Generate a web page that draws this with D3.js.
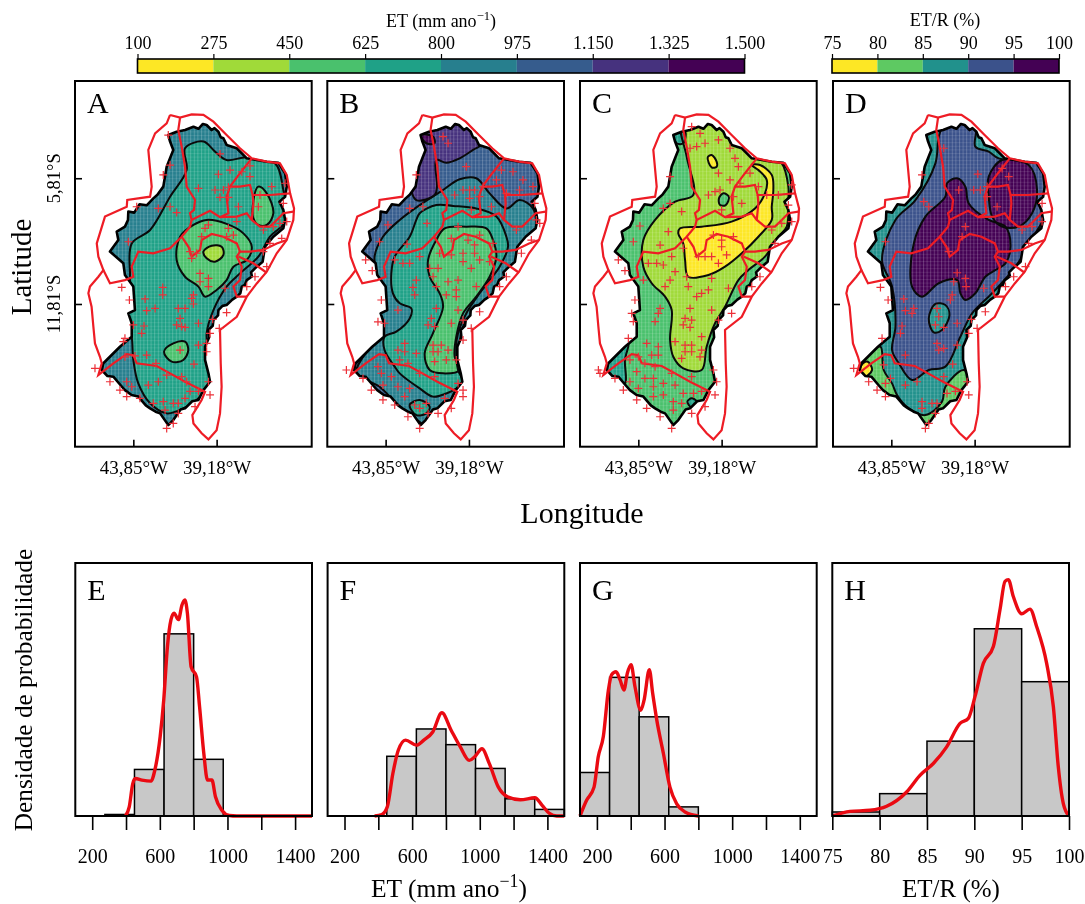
<!DOCTYPE html>
<html>
<head>
<meta charset="utf-8">
<title>ET maps</title>
<script src="https://cdn.jsdelivr.net/npm/d3@7"></script>
<style>
  html, body { margin: 0; background: #fff; }
  svg { filter: blur(0.45px); }
  text { font-family: "Liberation Serif", serif; fill: #000; }
</style>
</head>
<body>
<svg id="chart" width="1085" height="904"></svg>
<script>
// colour classes
const etBreaks = [100, 275, 450, 625, 800, 975, 1150, 1325, 1500];
const etColors = ["#fde725", "#a0da39", "#4ac16d", "#1fa187", "#277f8e", "#365c8d", "#46327e", "#440154"];
const ratioBreaks = [75, 80, 85, 90, 95, 100];
const ratioColors = ["#fde725", "#5ec962", "#21918c", "#3b528b", "#440154"];

// map geometry, all pairs are [degrees W, degrees S]
const studyArea = [[41.89,3.75],[41.42,3.59],[40.95,3.51],[40.48,3.35],[40.20,3.45],[39.95,3.22],[39.74,3.27],[39.46,3.51],[39.30,3.42],[39.08,3.59],[38.95,3.85],[38.80,3.90],[38.62,4.22],[38.05,4.38],[37.49,4.86],[36.37,5.02],[35.72,5.07],[35.34,5.57],[35.25,6.21],[35.34,6.69],[35.66,6.93],[35.44,7.32],[35.34,7.80],[35.44,8.20],[36.00,8.60],[36.47,9.08],[36.60,9.79],[37.03,10.11],[37.25,10.30],[37.20,10.50],[37.49,10.67],[37.60,10.90],[37.77,10.98],[37.85,11.30],[38.05,11.46],[38.30,11.60],[38.62,11.86],[38.85,11.90],[39.08,12.10],[39.10,12.35],[39.36,12.58],[39.40,12.85],[39.64,13.05],[39.60,13.40],[39.83,13.85],[39.83,14.48],[39.64,15.12],[39.55,15.52],[39.92,15.92],[40.20,16.39],[40.55,16.45],[40.95,16.79],[41.20,16.85],[41.61,17.35],[41.89,17.59],[42.35,17.03],[42.60,16.95],[42.91,16.79],[43.15,16.65],[43.57,16.23],[43.95,16.15],[44.32,15.92],[44.55,15.70],[44.97,15.28],[45.30,15.25],[45.62,14.96],[45.53,14.64],[44.60,13.85],[43.94,13.37],[43.94,12.73],[44.13,12.26],[43.76,12.10],[43.85,10.98],[44.32,10.43],[44.41,9.87],[45.16,9.31],[44.69,8.76],[44.78,8.36],[44.32,8.12],[44.15,7.80],[44.13,7.40],[43.80,7.45],[43.50,7.05],[43.10,7.10],[42.73,6.77],[42.50,6.60],[42.17,6.21],[41.98,5.26],[41.61,4.46],[41.79,4.06]];
const redOuter = [[41.79,2.79],[41.23,2.92],[40.58,2.76],[39.92,2.79],[39.36,3.11],[38.62,3.75],[37.87,4.38],[37.21,4.86],[36.37,5.02],[35.63,5.10],[35.25,5.65],[35.06,6.53],[34.84,7.25],[34.88,7.80],[35.25,8.76],[35.81,9.39],[36.37,10.27],[36.93,10.83],[37.49,11.46],[38.05,12.42],[38.99,13.05],[38.95,14.64],[38.90,15.76],[38.99,17.03],[39.18,17.83],[39.64,18.27],[40.02,17.98],[40.48,17.51],[40.54,17.11],[40.02,16.39],[39.83,16.00],[40.95,15.52],[41.79,15.12],[42.54,14.77],[43.66,14.64],[43.85,14.25],[44.22,14.20],[44.97,14.64],[45.81,15.20],[45.62,14.64],[45.72,14.33],[46.00,13.69],[46.09,12.89],[46.19,11.94],[46.37,11.30],[46.28,10.98],[45.81,10.51],[45.53,10.19],[45.81,9.55],[45.90,8.92],[45.44,7.64],[44.22,7.17],[44.19,6.85],[42.91,6.69],[42.82,6.21],[43.01,4.46],[42.63,3.67],[41.98,3.19],[41.79,2.79]];
const redBorders = [
  [[41.23,2.92],[41.33,3.51],[41.14,4.30],[40.95,5.26],[40.86,6.21],[40.39,6.85],[40.45,7.32],[40.67,7.48],[40.58,7.80],[39.55,7.36],[38.99,7.67],[38.05,7.64],[37.49,7.48],[37.21,7.80],[36.75,8.12],[36.19,8.12],[35.81,7.80],[35.44,7.48],[34.88,7.40]],
  [[37.21,4.86],[37.87,5.57],[38.43,6.21],[38.62,6.69],[38.52,7.48],[38.99,7.67]],
  [[38.43,6.21],[37.87,6.21],[37.31,6.13],[37.16,6.61],[36.19,6.61],[35.06,6.53]],
  [[37.16,6.61],[37.12,7.01],[37.21,7.80]],
  [[45.53,10.19],[45.16,10.82],[44.32,10.67],[43.85,10.51],[43.94,10.03],[43.57,9.31],[42.73,9.39],[41.79,9.15],[41.14,8.60],[40.67,8.12],[40.58,7.80]],
  [[41.14,8.60],[40.76,9.08],[40.58,9.55],[40.11,9.23],[40.02,8.76],[39.46,8.47],[38.80,8.60],[38.05,8.92],[37.87,9.31],[37.31,9.31],[36.56,9.23],[35.81,8.92],[35.25,8.76]],
  [[37.87,9.31],[38.05,9.55],[37.77,10.03],[37.87,10.67],[38.24,10.98],[38.05,11.46],[37.49,11.46]],
  [[37.96,9.55],[37.12,9.87],[36.37,10.32]]
];

// contour bands: [colour class, ring], painted in this order
const bandsA = [
  [3, [[40.95,4.38],[39.92,4.06],[39.27,4.54],[38.62,4.94],[37.49,4.81],[35.91,5.10],[35.44,6.37],[35.25,7.80],[36.19,8.60],[36.84,9.55],[37.87,10.35],[38.62,10.98],[39.36,12.10],[39.74,13.21],[39.55,15.44],[40.11,16.23],[41.05,16.79],[41.98,17.03],[42.91,16.55],[43.57,15.60],[43.85,14.48],[43.94,13.37],[44.22,12.26],[44.04,10.67],[43.94,8.92],[42.91,8.28],[41.79,6.69],[40.86,5.42]]],
  [2, [[41.23,8.60],[40.48,8.04],[39.74,7.80],[38.62,7.99],[37.68,8.44],[37.21,9.08],[37.49,9.71],[38.24,10.03],[38.62,10.67],[39.18,11.14],[39.83,11.46],[40.20,10.98],[40.95,10.51],[41.42,9.71]]],
  [1, [[39.92,9.31],[39.46,9.03],[38.90,9.08],[38.80,9.47],[39.27,9.79],[39.74,9.63]]],
  [2, [[37.16,7.17],[36.84,6.21],[36.37,6.53],[36.00,7.48],[36.37,8.04],[36.84,8.04],[37.12,7.72]]],
  [2, [[42.13,14.09],[41.61,13.69],[40.95,13.61],[40.77,14.01],[41.05,14.48],[41.70,14.56]]]
];
const bandsB = [
  [6, [[42.13,3.51],[38.58,3.51],[38.39,4.14],[38.95,4.46],[39.70,4.86],[40.45,5.07],[41.01,4.94],[40.97,6.21],[41.10,6.61],[42.13,6.85],[42.50,5.89]]],
  [7, [[41.89,3.75],[41.20,3.82],[41.10,4.14],[41.57,4.14]]],
  [4, [[44.47,9.55],[44.00,8.60],[43.06,7.80],[41.94,7.09],[40.63,6.37],[39.70,5.86],[38.77,5.81],[38.02,6.53],[37.08,7.25],[36.34,6.85],[35.59,7.25],[35.40,8.28],[35.59,9.08],[36.34,9.71],[36.90,10.51],[37.83,11.30],[38.58,12.10],[39.33,12.58],[39.70,13.69],[39.51,15.76],[40.07,16.71],[41.38,17.67],[42.32,17.19],[43.25,16.55],[44.19,15.76],[45.49,15.12],[44.84,14.01],[44.00,13.21],[44.19,12.26],[44.28,10.67]]],
  [3, [[41.94,7.48],[41.01,7.09],[40.07,7.13],[38.77,7.25],[37.64,7.64],[37.08,8.60],[36.99,9.08],[37.46,10.03],[38.02,10.67],[38.58,11.30],[39.33,12.26],[39.79,13.21],[39.89,13.85],[39.79,14.96],[39.51,15.52],[39.89,15.84],[40.45,16.08],[41.20,16.23],[41.94,15.84],[43.06,15.12],[43.34,14.80],[43.91,14.01],[43.91,13.37],[43.25,13.13],[42.50,12.50],[42.41,12.02],[43.06,11.78],[43.44,11.30],[43.53,10.35],[43.34,9.55],[42.50,8.60],[42.13,7.80]]],
  [3, [[42.50,16.63],[41.94,16.39],[41.38,16.71],[41.57,17.03],[42.13,17.11]]],
  [2, [[41.47,9.71],[41.01,8.76],[40.54,8.20],[39.33,8.12],[38.20,8.20],[37.83,8.76],[37.64,9.55],[38.02,10.51],[38.77,11.46],[39.51,12.26],[39.89,13.37],[39.98,14.33],[39.70,14.96],[40.63,15.12],[41.38,14.96],[41.66,14.17],[41.20,13.21],[40.63,11.94],[40.82,11.30],[41.38,10.51]]]
];
const bandsC = [
  [1, [[40.77,6.61],[41.79,6.93],[42.91,7.80],[43.57,8.76],[43.57,10.03],[43.10,10.82],[42.35,11.46],[41.98,12.10],[42.07,13.53],[41.89,14.33],[41.33,14.88],[40.30,14.96],[40.02,13.85],[39.55,12.73],[38.99,11.94],[38.24,10.67],[37.68,10.19],[36.75,9.55],[36.00,8.60],[35.53,8.12],[35.44,6.85],[35.44,6.21],[35.81,5.10],[36.19,4.94],[39.92,3.03],[41.42,3.19],[41.14,4.78]]],
  [0, [[41.51,8.20],[40.30,8.12],[38.62,7.88],[37.31,7.25],[36.75,6.53],[36.65,5.89],[37.12,5.42],[37.49,5.18],[37.03,5.18],[36.37,5.65],[36.28,6.37],[36.37,7.17],[36.37,7.80],[37.12,8.60],[38.05,9.39],[38.99,10.03],[39.92,10.43],[41.05,10.51],[41.23,9.71],[41.33,8.92],[41.61,8.44]]],
  [0, [[39.96,4.81],[39.74,4.70],[39.46,5.02],[39.46,5.26],[39.74,5.29]]],
  [2, [[39.33,6.77],[39.08,6.53],[38.77,6.69],[38.95,7.09],[39.27,7.09]]],
  [3, [[41.10,16.47],[40.86,16.31],[40.58,16.47],[40.86,16.74]]],
  [3, [[45.81,15.12],[44.97,14.01],[44.41,13.69],[44.60,14.48],[44.60,15.60],[45.16,15.44]]],
  [3, [[41.89,3.67],[41.23,3.59],[41.33,4.14],[41.70,4.14]]]
];
const bandsD = [
  [3, [[41.19,3.82],[40.91,3.35],[39.14,3.27],[39.14,4.30],[38.39,4.54],[37.83,4.86],[35.40,5.10],[35.21,7.48],[35.77,8.44],[36.89,10.03],[38.20,11.30],[39.32,12.26],[39.98,13.37],[40.82,14.80],[41.75,14.96],[42.69,15.44],[43.43,14.64],[43.81,14.01],[43.62,12.89],[43.81,10.98],[44.37,9.71],[43.62,7.80],[42.50,6.85],[41.38,5.10]]],
  [4, [[42.69,10.98],[42.59,8.92],[41.94,7.64],[40.82,6.69],[40.73,6.05],[40.16,5.81],[39.70,6.21],[39.51,7.01],[38.39,7.80],[37.45,8.12],[37.17,9.08],[37.45,9.87],[38.01,10.19],[38.58,10.51],[39.14,11.30],[39.70,11.62],[39.98,11.30],[40.16,10.67],[41.19,10.82],[42.13,11.46]]],
  [4, [[38.39,5.73],[37.64,4.94],[36.15,5.18],[35.68,6.37],[35.96,7.48],[36.71,8.12],[37.64,8.12],[38.20,7.64],[38.39,6.69]]],
  [2, [[41.75,12.50],[41.38,11.81],[40.82,11.86],[40.59,12.34],[41.01,13.05],[41.47,13.16]]],
  [1, [[45.77,15.12],[45.02,14.09],[44.46,13.85],[44.28,14.96],[43.81,15.60],[43.53,16.15],[42.87,16.79],[41.94,17.11],[41.01,16.47],[40.82,15.76],[39.79,14.96],[39.32,15.52],[39.88,16.39],[41.01,17.19],[41.85,17.83],[43.62,16.55],[45.12,15.60],[45.86,15.28]]],
  [0, [[45.96,15.20],[45.21,14.56],[44.93,14.96],[45.49,15.36]]]
];

// stations with significant trend (red crosses)
const crossesA = [[41.89,3.75],[38.99,4.65],[39.08,5.62],[38.43,5.42],[37.77,5.50],[37.31,5.22],[37.31,5.73],[40.20,6.29],[39.27,6.37],[38.80,6.37],[38.99,6.72],[38.52,6.72],[38.52,6.24],[37.96,7.17],[36.75,6.61],[36.84,7.17],[36.09,6.21],[35.34,6.05],[35.44,7.01],[36.56,8.28],[36.00,8.12],[35.63,7.96],[35.25,7.88],[38.05,7.88],[38.52,8.20],[39.64,8.04],[39.83,8.20],[40.02,8.60],[38.62,8.60],[38.24,8.52],[40.67,9.31],[40.58,9.63],[40.30,9.39],[41.79,7.17],[41.42,7.45],[42.45,7.25],[42.17,5.65],[41.79,5.18],[43.66,7.17],[44.13,8.84],[40.11,10.35],[40.11,10.75],[39.64,10.59],[39.64,10.98],[38.71,11.06],[44.50,11.02],[44.07,11.62],[43.19,11.57],[42.20,11.02],[42.20,11.38],[40.48,11.38],[40.58,11.54],[40.48,11.81],[43.10,12.13],[42.63,12.02],[41.33,12.02],[40.95,12.02],[41.23,12.50],[41.42,12.81],[41.14,12.89],[40.95,12.93],[40.20,12.73],[39.40,12.54],[38.62,12.22],[39.03,12.97],[43.85,12.81],[43.25,12.86],[43.38,13.21],[44.32,13.45],[44.41,13.61],[39.55,13.21],[40.20,13.77],[39.74,13.69],[39.74,14.09],[41.23,14.01],[43.10,14.25],[43.76,14.29],[44.32,14.33],[40.45,14.68],[42.58,14.64],[41.98,15.20],[41.14,15.28],[40.86,15.52],[39.64,15.52],[45.16,15.52],[46.00,14.88],[44.60,15.92],[44.22,16.23],[44.22,15.52],[43.94,15.76],[43.01,15.68],[42.45,15.52],[43.48,16.31],[42.73,16.55],[42.17,16.47],[42.07,16.87],[41.61,16.55],[41.33,16.55],[40.95,16.31],[40.67,15.98],[40.20,15.98],[39.55,16.15],[40.39,16.71],[41.33,17.03],[41.61,17.51],[41.98,17.75],[37.49,10.98],[37.03,10.51],[36.37,10.03],[35.53,8.68],[36.19,8.92],[36.56,9.31]];
const crossesB = [[40.63,3.82],[40.35,4.14],[39.33,5.26],[37.36,5.42],[36.71,5.50],[36.15,5.89],[35.59,6.21],[37.64,5.89],[38.39,6.21],[38.58,6.69],[39.98,6.61],[39.51,6.37],[39.14,6.37],[38.86,6.37],[39.14,6.77],[39.05,7.32],[37.92,7.17],[37.08,6.53],[36.34,6.37],[35.49,7.01],[35.40,7.80],[35.21,7.96],[36.52,8.28],[42.13,5.65],[41.76,7.17],[42.50,7.25],[41.53,7.96],[43.72,8.04],[44.19,8.84],[42.65,8.95],[44.97,9.71],[44.60,10.22],[39.79,8.12],[38.58,8.52],[40.17,8.68],[39.23,8.76],[38.86,8.99],[37.83,8.92],[40.82,9.39],[40.17,9.47],[39.51,9.39],[38.86,9.39],[39.51,9.79],[38.58,9.71],[39.05,10.11],[38.02,9.79],[42.88,9.87],[42.50,9.87],[41.94,9.55],[43.34,9.71],[41.38,10.11],[40.91,10.11],[41.19,10.51],[42.13,10.67],[42.32,11.02],[42.22,11.38],[41.01,10.98],[40.35,10.75],[39.79,10.67],[38.77,10.98],[39.89,11.14],[40.45,11.38],[39.89,11.46],[41.01,12.02],[39.79,12.10],[38.58,12.18],[44.09,11.62],[43.16,12.10],[44.28,12.66],[43.91,12.73],[41.29,12.50],[41.47,12.81],[41.10,12.89],[40.17,12.73],[39.51,12.58],[39.05,12.97],[39.51,13.53],[42.78,13.69],[43.16,14.01],[42.78,14.09],[42.13,14.17],[41.19,13.77],[40.73,13.77],[41.19,14.09],[40.91,14.09],[40.35,14.01],[41.10,14.56],[40.45,14.48],[39.89,14.48],[42.60,14.64],[43.06,14.48],[41.94,15.12],[44.28,14.80],[46.05,14.96],[45.12,15.36],[44.65,15.92],[44.09,15.12],[43.53,15.28],[44.00,15.68],[43.16,15.76],[44.00,16.39],[42.78,16.23],[42.50,15.84],[43.34,16.63],[41.10,15.28],[39.79,15.60],[39.51,15.92],[39.51,16.23],[40.54,16.31],[40.17,16.79],[42.22,16.63],[41.94,16.79],[41.57,16.55],[41.47,17.03],[40.91,17.03],[42.60,17.19],[41.94,17.75],[37.46,10.98],[37.08,10.51],[36.24,9.39],[35.68,8.76]];
const crossesC = [[40.86,3.35],[40.39,3.67],[40.11,4.14],[39.36,3.98],[38.71,4.38],[40.95,4.38],[40.58,4.30],[38.43,4.86],[38.24,5.26],[39.36,5.57],[38.71,5.89],[38.15,6.05],[37.59,5.57],[37.12,6.21],[39.92,6.61],[39.55,6.45],[39.27,6.37],[38.52,6.69],[39.18,7.32],[38.05,7.01],[36.65,6.61],[36.00,6.61],[35.25,6.13],[35.44,7.09],[36.37,8.28],[35.81,7.96],[35.25,7.88],[36.19,8.92],[42.07,5.73],[42.45,7.25],[42.07,7.01],[41.42,7.40],[43.76,8.09],[44.13,8.84],[42.17,8.36],[42.63,9.00],[41.33,9.15],[44.97,9.71],[44.60,10.22],[41.98,9.55],[43.29,9.87],[42.82,9.87],[42.45,9.95],[41.79,10.27],[42.07,10.67],[42.35,10.98],[43.57,10.67],[41.14,10.51],[39.74,10.59],[41.05,10.98],[39.92,11.14],[40.30,11.30],[40.58,11.46],[38.80,11.06],[39.64,8.52],[38.52,8.60],[39.18,8.76],[39.18,9.08],[40.11,9.55],[39.74,9.55],[38.90,9.47],[39.36,9.87],[40.48,9.55],[44.04,11.62],[40.95,12.02],[39.74,12.10],[42.63,12.02],[42.73,12.26],[44.22,12.26],[42.91,12.65],[44.13,12.65],[41.23,12.50],[41.33,12.81],[40.95,12.93],[40.86,12.58],[39.36,12.58],[38.62,12.26],[44.41,13.45],[40.30,13.37],[41.79,13.61],[43.38,13.69],[42.73,13.85],[41.23,13.77],[40.86,13.77],[41.23,14.09],[40.86,14.09],[40.30,14.01],[41.42,14.41],[40.39,14.33],[43.10,14.25],[42.73,14.25],[43.85,14.33],[44.32,14.48],[43.48,14.64],[42.91,14.80],[43.94,15.04],[46.09,14.96],[46.00,15.12],[45.16,15.36],[43.48,15.36],[43.01,15.36],[41.98,15.12],[40.86,15.28],[39.64,14.96],[39.46,15.52],[44.32,15.52],[44.69,15.92],[43.85,15.84],[43.01,15.76],[42.45,15.60],[41.79,15.68],[40.30,15.98],[40.76,16.08],[41.33,16.08],[43.01,16.23],[42.45,16.15],[43.94,16.39],[43.38,16.79],[41.89,16.47],[41.42,16.55],[41.89,16.87],[39.55,16.15],[40.11,16.71],[40.86,17.03],[42.63,17.19],[41.98,17.75],[37.49,10.98],[37.03,10.51]];
const crossesD = [[40.91,4.38],[39.00,5.61],[37.64,5.34],[37.27,5.73],[38.48,6.21],[39.23,6.37],[38.86,6.37],[38.48,6.69],[40.07,6.37],[37.92,7.17],[42.13,5.65],[42.03,6.93],[41.75,7.17],[44.18,8.84],[39.70,8.12],[39.88,8.60],[40.63,9.31],[40.16,10.32],[40.35,10.75],[39.70,10.59],[39.66,10.98],[38.67,11.06],[44.46,11.02],[44.03,11.62],[43.15,11.57],[42.59,12.02],[43.06,12.13],[42.69,12.26],[40.44,11.38],[40.54,11.62],[41.29,12.02],[41.19,12.42],[41.38,12.81],[40.91,12.93],[40.16,12.73],[39.36,12.54],[38.58,12.18],[39.04,12.97],[43.25,12.86],[43.34,13.21],[44.37,13.45],[39.51,13.21],[40.16,13.77],[41.29,13.69],[41.19,14.01],[40.91,13.93],[43.06,14.25],[40.41,14.68],[44.28,14.72],[45.96,14.88],[45.12,15.52],[43.90,15.36],[44.18,15.60],[43.06,15.68],[42.41,15.52],[44.65,15.92],[44.18,16.23],[42.13,16.47],[42.13,16.79],[41.57,16.55],[41.29,16.55],[40.91,15.28],[39.60,15.52],[40.73,16.08],[40.26,15.98],[39.51,16.15],[41.38,17.03],[41.94,17.75],[41.75,17.51],[37.45,10.98],[36.99,10.51],[36.33,10.03],[35.40,7.88],[35.96,8.12],[36.52,8.28],[36.15,8.92],[35.40,7.01]];

// histogram densities per bin, then kernel density curves [value, density]
const histE = [0, 0.00003, 0.00092, 0.0036, 0.00112, 0, 0, 0];
const histF = [0, 0, 0.00118, 0.00172, 0.00141, 0.00094, 0.00034, 0.00013];
const histG = [0.00086, 0.00274, 0.00196, 0.00018, 0, 0, 0, 0];
const histH = [0.0019, 0.0106, 0.0355, 0.0888, 0.0637];
const kdeE = [[397,0],[419,0.00018],[440,0.00064],[455,0.00074],[494,0.00071],[548,0.00069],[570,0.0009],[602,0.00157],[623,0.00229],[645,0.00335],[666,0.00388],[684,0.00401],[710,0.00388],[731,0.00417],[748,0.00427],[763,0.00401],[785,0.00295],[817,0.00275],[835,0.00216],[860,0.00124],[882,0.00071],[908,0.00071],[929,0.00038],[968,0.00011],[1011,0.00001],[1054,0],[1500,0]];
const kdeF = [[378,0],[421,0.00003],[453,0.00018],[486,0.00084],[518,0.0013],[561,0.0015],[626,0.0014],[669,0.0015],[722,0.00166],[776,0.00204],[830,0.0017],[884,0.00137],[938,0.0011],[970,0.00117],[1013,0.00133],[1056,0.00104],[1110,0.00057],[1164,0.00038],[1240,0.00032],[1326,0.00036],[1369,0.00021],[1412,0.00005],[1455,0],[1500,0]];
const kdeG = [[100,0],[139,0.00031],[183,0.00057],[208,0.00117],[238,0.00157],[268,0.00249],[287,0.00279],[313,0.00285],[337,0.00269],[360,0.00249],[380,0.00282],[402,0.00299],[425,0.00256],[459,0.00209],[479,0.00229],[510,0.00289],[530,0.00242],[554,0.0019],[593,0.00124],[632,0.00057],[672,0.00024],[721,0.00008],[800,0]];
const kdeH = [[75,0],[76.87,0.0022],[78.98,0.0027],[80.74,0.0046],[82.85,0.0114],[84.26,0.0193],[85.67,0.0249],[87.08,0.0328],[88.49,0.0439],[89.37,0.0463],[90.07,0.0566],[90.95,0.0724],[92.01,0.0804],[92.71,0.0978],[93.24,0.1113],[93.59,0.1121],[94.12,0.1041],[95,0.0959],[95.88,0.0981],[96.58,0.0899],[97.64,0.0724],[98.35,0.0518],[98.87,0.0233],[99.4,0.0059],[100,0]];

const etTicks = [200, 400, 600, 800, 1000, 1200, 1400];
const etLabels = [200, 600, 1000, 1400];

const svg = d3.select("#chart");

// shared map scales, one panel is 236.7 x 365.7
const mapW = 236.7, mapH = 365.7;
const lonScale = d3.scaleLinear().domain([47.12, 33.85]).range([0, mapW]);
const latScale = d3.scaleLinear().domain([1.17, 18.62]).range([0, mapH]);
const toXY = p => [lonScale(p[0]), latScale(p[1])];
const ringLine = d3.line().x(d => lonScale(d[0])).y(d => latScale(d[1])).curve(d3.curveCatmullRomClosed.alpha(0.5));
const straight = d3.line().x(d => lonScale(d[0])).y(d => latScale(d[1]));

const defs = svg.append("defs");
defs.append("clipPath").attr("id", "areaClip")
  .append("path").attr("d", straight(studyArea) + "Z");
// the raster cells show through as a thin white grid
const cells = defs.append("pattern").attr("id", "cells")
  .attr("width", 3.6).attr("height", 3.6).attr("patternUnits", "userSpaceOnUse");
cells.append("rect").attr("width", 1).attr("height", 3.6).attr("fill", "#fff").attr("opacity", 0.2);
cells.append("rect").attr("width", 3.6).attr("height", 1).attr("fill", "#fff").attr("opacity", 0.1);

function drawMap(left, letter, colors, baseClass, bands, crosses) {
  const g = svg.append("g").attr("transform", `translate(${left},81)`);
  const inner = g.append("g").attr("clip-path", "url(#areaClip)");

  inner.append("rect").attr("width", mapW).attr("height", mapH).attr("fill", colors[baseClass]);
  bands.forEach(b => {
    inner.append("path").attr("d", ringLine(b[1]))
      .attr("fill", colors[b[0]]).attr("stroke", "none");
  });
  inner.append("rect").attr("width", mapW).attr("height", mapH).attr("fill", "url(#cells)");
  bands.forEach(b => {
    inner.append("path").attr("d", ringLine(b[1]))
      .attr("fill", "none").attr("stroke", "#0a0a0a").attr("stroke-width", 2);
  });

  g.append("path").attr("d", straight(studyArea) + "Z")
    .attr("fill", "none").attr("stroke", "#000").attr("stroke-width", 2.6).attr("stroke-linejoin", "round");

  g.append("path").attr("d", straight(redOuter))
    .attr("fill", "none").attr("stroke", "#ee1c25").attr("stroke-width", 2.2);
  redBorders.forEach(b => {
    g.append("path").attr("d", straight(b))
      .attr("fill", "none").attr("stroke", "#ee1c25").attr("stroke-width", 2.2);
  });

  g.selectAll(".cross").data(crosses).enter().append("path")
    .attr("transform", d => `translate(${toXY(d)})`)
    .attr("d", "M-4,0H4M0,-4V4")
    .attr("stroke", "#ec3038").attr("stroke-width", 1.2).attr("fill", "none");

  g.append("rect").attr("width", mapW).attr("height", mapH)
    .attr("fill", "none").attr("stroke", "#000").attr("stroke-width", 2);

  // inward ticks
  const xAxis = d3.axisBottom(lonScale).tickValues([43.85, 39.18]).tickSizeInner(-7).tickSizeOuter(0)
    .tickPadding(14).tickFormat(d => d.toFixed(2).replace(".", ",") + "°W");
  const ax = g.append("g").attr("transform", `translate(0,${mapH})`).call(xAxis);
  ax.select(".domain").remove();
  ax.selectAll("line").attr("stroke-width", 1.6);
  ax.selectAll("text").attr("font-size", 19);

  const yAxis = d3.axisLeft(latScale).tickValues([5.81, 11.81]).tickSizeInner(-7).tickSizeOuter(0).tickFormat("");
  const ay = g.append("g").call(yAxis);
  ay.select(".domain").remove();
  ay.selectAll("line").attr("stroke-width", 1.6);

  g.append("text").attr("x", 12).attr("y", 32).attr("font-size", 30).text(letter);
  return g;
}

drawMap(75, "A", etColors, 4, bandsA, crossesA);
drawMap(327.3, "B", etColors, 5, bandsB, crossesB);
drawMap(580, "C", etColors, 2, bandsC, crossesC);
drawMap(833, "D", ratioColors, 2, bandsD, crossesD);

// latitude labels only on the first map
[5.81, 11.81].forEach(v => {
  svg.append("text")
    .attr("transform", `translate(60,${81 + latScale(v)}) rotate(-90)`)
    .attr("text-anchor", "middle").attr("font-size", 18.5)
    .text(v.toFixed(2).replace(".", ",") + "°S");
});

svg.append("text").attr("transform", "translate(31,267) rotate(-90)")
  .attr("text-anchor", "middle").attr("font-size", 29).text("Latitude");
svg.append("text").attr("x", 582).attr("y", 523)
  .attr("text-anchor", "middle").attr("font-size", 30).text("Longitude");

// colour bars
const dotFormat = d3.formatLocale({ decimal: ",", thousands: ".", grouping: [3], currency: ["", ""] }).format(",");

function drawBar(x0, x1, breaks, colors, fmt) {
  const s = d3.scaleLinear().domain([breaks[0], breaks[breaks.length - 1]]).range([x0, x1]);
  const g = svg.append("g");
  g.selectAll("rect").data(colors).enter().append("rect")
    .attr("x", (d, i) => s(breaks[i])).attr("width", (d, i) => s(breaks[i + 1]) - s(breaks[i]))
    .attr("y", 59).attr("height", 14).attr("fill", d => d);
  g.append("rect").attr("x", x0).attr("y", 59).attr("width", x1 - x0).attr("height", 14)
    .attr("fill", "none").attr("stroke", "#000").attr("stroke-width", 1.6);
  const a = g.append("g").attr("transform", "translate(0,59)")
    .call(d3.axisTop(s).tickValues(breaks).tickSize(5).tickPadding(5).tickFormat(fmt));
  a.select(".domain").remove();
  a.selectAll("line").attr("stroke-width", 1.2);
  a.selectAll("text").attr("font-size", 18);
}
drawBar(137.5, 744.5, etBreaks, etColors, dotFormat);
drawBar(832, 1059, ratioBreaks, ratioColors, d => d);

function etTitle(x, y, size) {
  const t = svg.append("text").attr("x", x).attr("y", y).attr("text-anchor", "middle").attr("font-size", size);
  t.append("tspan").text("ET (mm ano");
  t.append("tspan").attr("dy", -size * 0.38).attr("font-size", size * 0.7).text("−1");
  t.append("tspan").attr("dy", size * 0.38).text(")");
}
etTitle(441, 27, 18);
svg.append("text").attr("x", 945).attr("y", 26).attr("text-anchor", "middle").attr("font-size", 18).text("ET/R (%)");

// histograms
const histW = 236.7, histH_px = 253, histTop = 563;

function drawHist(left, letter, breaks, hist, kde, ymax, ticks, labels) {
  const x = d3.scaleLinear().domain([breaks[0], breaks[breaks.length - 1]]).range([0, histW]);
  const y = d3.scaleLinear().domain([0, ymax]).range([histH_px, 0]);
  const g = svg.append("g").attr("transform", `translate(${left},${histTop})`);

  g.selectAll("rect.bar").data(hist).enter().append("rect").attr("class", "bar")
    .attr("x", (d, i) => x(breaks[i])).attr("width", (d, i) => x(breaks[i + 1]) - x(breaks[i]))
    .attr("y", d => y(d)).attr("height", d => histH_px - y(d))
    .attr("fill", "#c8c8c8").attr("stroke", "#000").attr("stroke-width", 1.5);

  g.append("path").datum(kde)
    .attr("d", d3.line().x(d => x(d[0])).y(d => y(d[1])).curve(d3.curveMonotoneX))
    .attr("fill", "none").attr("stroke", "#ea0a12").attr("stroke-width", 3.4).attr("stroke-linejoin", "round");

  g.append("rect").attr("width", histW).attr("height", histH_px)
    .attr("fill", "none").attr("stroke", "#000").attr("stroke-width", 2);

  const a = g.append("g").attr("transform", `translate(0,${histH_px})`)
    .call(d3.axisBottom(x).tickValues(ticks).tickSize(14).tickPadding(19)
      .tickFormat(d => labels.includes(d) ? d : ""));
  a.select(".domain").remove();
  a.selectAll("line").attr("stroke-width", 1.6);
  a.selectAll("text").attr("font-size", 20);

  g.append("text").attr("x", 12).attr("y", 37).attr("font-size", 30).text(letter);
}

drawHist(75.3, "E", etBreaks, histE, kdeE, 0.005, etTicks, etLabels);
drawHist(327.6, "F", etBreaks, histF, kdeF, 0.005, etTicks, etLabels);
drawHist(580, "G", etBreaks, histG, kdeG, 0.005, etTicks, etLabels);
drawHist(832.3, "H", ratioBreaks, histH, kdeH, 0.12, ratioBreaks, ratioBreaks);

svg.append("text").attr("transform", "translate(32,690) rotate(-90)")
  .attr("text-anchor", "middle").attr("font-size", 25.3).text("Densidade de probabilidade");
etTitle(449, 897, 25.5);
svg.append("text").attr("x", 951).attr("y", 897).attr("text-anchor", "middle").attr("font-size", 25).text("ET/R (%)");
</script>
</body>
</html>
